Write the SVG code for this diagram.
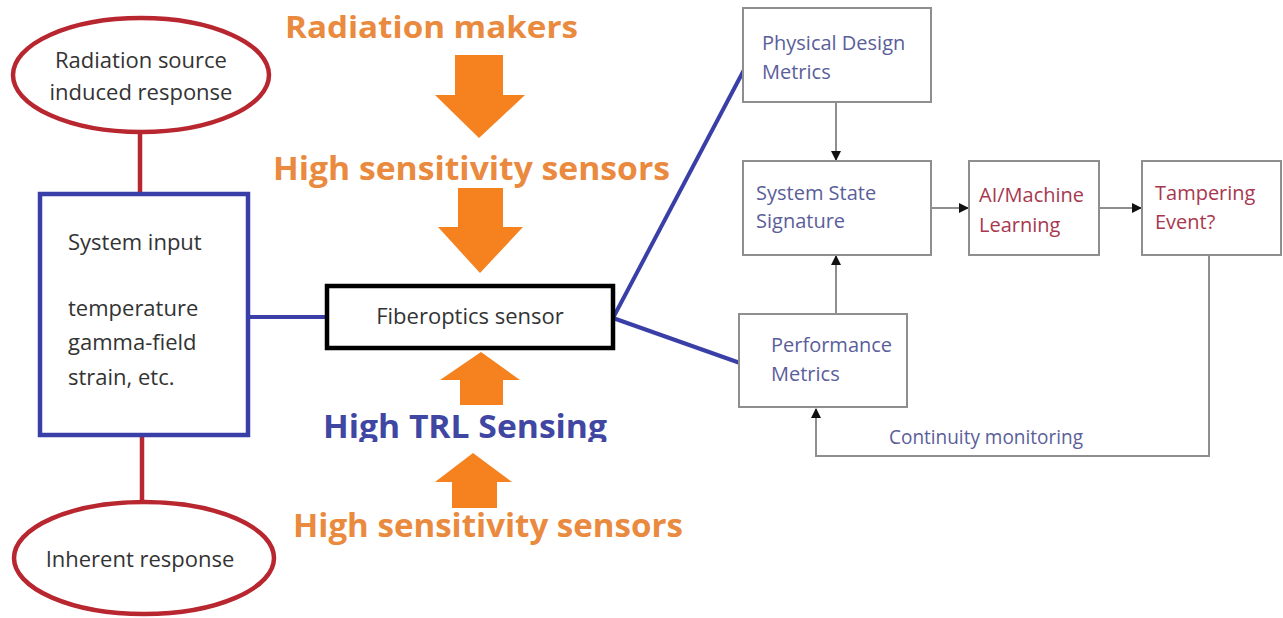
<svg xmlns="http://www.w3.org/2000/svg" width="1283" height="618" viewBox="0 0 1283 618">
<style>
.ell{fill:#fff;stroke:#B8262F;stroke-width:4.5}
.redl{stroke:#B8262F;stroke-width:4.5;fill:none}
.bluel{stroke:#3A3FA8;stroke-width:4;fill:none}
.t{font-family:"Open Sans","Liberation Sans",sans-serif;fill:#333}
.big{font-family:"Open Sans","Liberation Sans",sans-serif;font-weight:bold;fill:#EA8A3E}
.oarr{fill:#F5821F}
.gbox{fill:#fff;stroke:#8E8E8E;stroke-width:2}
.gl{stroke:#8E8E8E;stroke-width:2;fill:none}
.rb{font-family:"Open Sans","Liberation Sans",sans-serif;font-size:20px;fill:#5A5E9A}
.rr{font-family:"Open Sans","Liberation Sans",sans-serif;font-size:20px;fill:#A8384F}
</style>
<defs>
<marker id="ah" markerWidth="10" markerHeight="10" refX="9" refY="5" orient="auto" markerUnits="userSpaceOnUse" viewBox="0 0 10 10">
<path d="M0,0 L10,5 L0,10 Z" fill="#111"/>
</marker>
<clipPath id="trlclip"><rect x="300" y="395" width="340" height="47"/></clipPath>
</defs>
<rect width="1283" height="618" fill="#fff"/>

<g id="connectors">
<line class="redl" x1="140" y1="133" x2="140" y2="193"/>
<line class="redl" x1="142" y1="435" x2="142" y2="502"/>
<line class="bluel" x1="248" y1="317" x2="327" y2="317"/>
<line class="bluel" x1="613" y1="318" x2="745" y2="68"/>
<line class="bluel" x1="613" y1="318" x2="740" y2="363"/>
<line class="gl" x1="836" y1="102" x2="836" y2="160" marker-end="url(#ah)"/>
<line class="gl" x1="931" y1="208" x2="968" y2="208" marker-end="url(#ah)"/>
<line class="gl" x1="1099" y1="208" x2="1141" y2="208" marker-end="url(#ah)"/>
<line class="gl" x1="836" y1="314" x2="836" y2="256" marker-end="url(#ah)"/>
<polyline class="gl" points="1209,255 1209,456 816,456 816,409" marker-end="url(#ah)"/>
</g>

<g id="n-radiation-source">
<ellipse class="ell" cx="141" cy="75" rx="128" ry="57"/>
<text class="t" font-size="22" x="141" y="68" text-anchor="middle">Radiation source</text>
<text class="t" font-size="22" x="141" y="100" text-anchor="middle">induced response</text>
</g>

<g id="n-system-input">
<rect x="40" y="194" width="208" height="241" fill="#fff" stroke="#3A3FA8" stroke-width="4.5"/>
<text class="t" font-size="22" x="68" y="250">System input</text>
<text class="t" font-size="22" x="68" y="316">temperature</text>
<text class="t" font-size="22" x="68" y="350">gamma-field</text>
<text class="t" font-size="22" x="68" y="385">strain, etc.</text>
</g>

<g id="n-inherent">
<ellipse class="ell" cx="144" cy="558" rx="130" ry="56"/>
<text class="t" font-size="22" x="140" y="567" text-anchor="middle">Inherent response</text>
</g>

<g id="n-fiberoptics">
<rect x="327" y="286" width="286" height="62" fill="#fff" stroke="#000" stroke-width="4.5"/>
<text class="t" font-size="22" x="470" y="324" text-anchor="middle">Fiberoptics sensor</text>
</g>

<g id="n-radiation-makers">
<text class="big" font-size="30" x="285" y="38" textLength="293" lengthAdjust="spacingAndGlyphs">Radiation makers</text>
</g>
<g id="arrow-down-1">
<polygon class="oarr" points="455,55 503,55 503,95 525,95 479,138 435,95 455,95"/>
</g>
<g id="n-hss-top">
<text class="big" font-size="32" x="273" y="180" textLength="397" lengthAdjust="spacingAndGlyphs">High sensitivity sensors</text>
</g>
<g id="arrow-down-2">
<polygon class="oarr" points="458,188 503,188 503,227 523,227 480,273 438,227 458,227"/>
</g>
<g id="arrow-up-1">
<polygon class="oarr" points="481,352 520,380 503,380 503,405 460,405 460,380 440,380"/>
</g>
<g id="n-high-trl">
<text clip-path="url(#trlclip)" font-family="'Open Sans','Liberation Sans',sans-serif" font-weight="bold" font-size="32" fill="#3F47A3" x="323" y="438" textLength="284" lengthAdjust="spacingAndGlyphs">High TRL Sensing</text>
</g>
<g id="arrow-up-2">
<polygon class="oarr" points="473,453 512,482 497,482 497,508 452,508 452,482 435,482"/>
</g>
<g id="n-hss-bottom">
<text class="big" font-size="32" x="293" y="537" textLength="390" lengthAdjust="spacingAndGlyphs">High sensitivity sensors</text>
</g>

<g id="n-physical">
<rect class="gbox" x="743" y="8" width="188" height="94"/>
<text class="rb" x="762" y="50">Physical Design</text>
<text class="rb" x="762" y="79">Metrics</text>
</g>
<g id="n-state">
<rect class="gbox" x="743" y="161" width="188" height="94"/>
<text class="rb" x="756" y="200">System State</text>
<text class="rb" x="756" y="228">Signature</text>
</g>
<g id="n-ai">
<rect class="gbox" x="969" y="161" width="130" height="94"/>
<text class="rr" x="979" y="202">AI/Machine</text>
<text class="rr" x="979" y="232">Learning</text>
</g>
<g id="n-tamper">
<rect class="gbox" x="1142" y="161" width="139" height="94"/>
<text class="rr" x="1155" y="200">Tampering</text>
<text class="rr" x="1155" y="229">Event?</text>
</g>
<g id="n-performance">
<rect class="gbox" x="739" y="314" width="168" height="93"/>
<text class="rb" x="771" y="352">Performance</text>
<text class="rb" x="771" y="381">Metrics</text>
</g>
<g id="label-continuity">
<text class="rb" x="889" y="444" textLength="194" lengthAdjust="spacingAndGlyphs">Continuity monitoring</text>
</g>
</svg>
